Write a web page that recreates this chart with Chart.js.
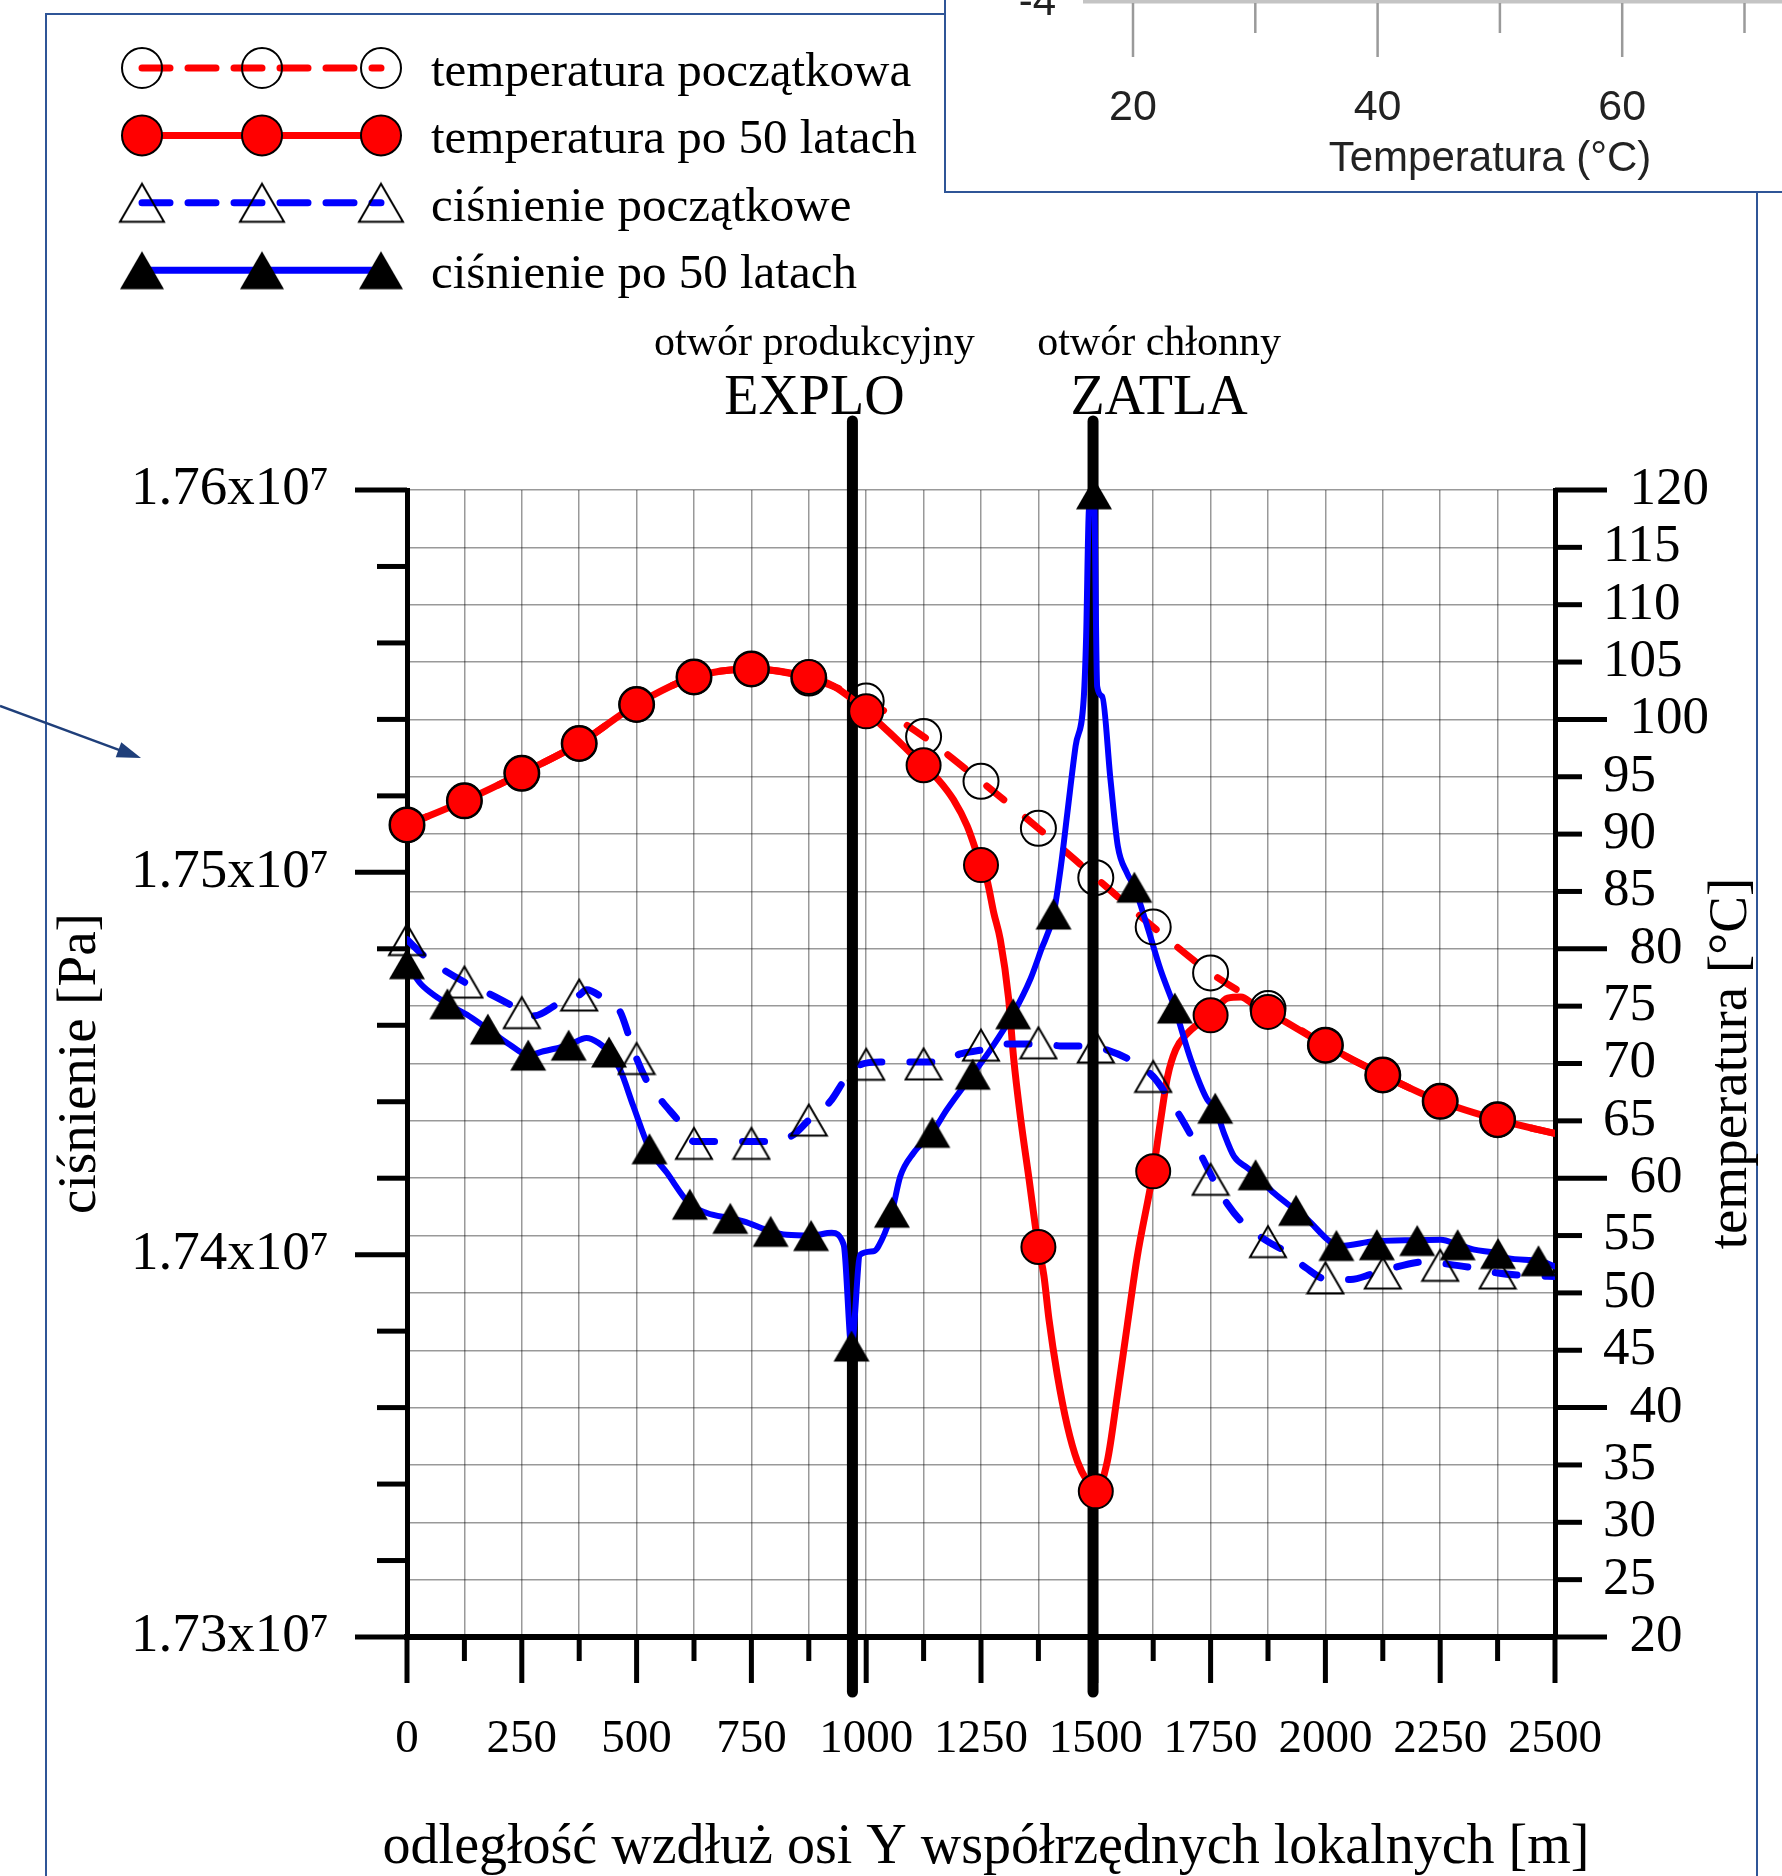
<!DOCTYPE html>
<html lang="pl">
<head>
<meta charset="utf-8">
<title>Ciśnienie i temperatura wzdłuż osi Y</title>
<script src="https://cdn.jsdelivr.net/npm/chart.js@4.4.1/dist/chart.umd.min.js"></script>
<style>
  html, body { margin: 0; padding: 0; background: #fff; }
  #wrap { position: relative; width: 1782px; height: 1876px; }
</style>
</head>
<body>
<div id="wrap"><canvas id="wykres" width="1782" height="1876"></canvas></div>
<script>
const wykres = document.getElementById('wykres');

const SERIF = '"Liberation Serif", "Times New Roman", serif';
const SANS = '"Liberation Sans", Arial, sans-serif';
const CZERWONY = '#ff0000';
const NIEBIESKI = '#0000ff';
const RAMKA = '#2f5597';
const SIATKA = 'rgba(0,0,0,0.4)';

// --- dane ---
// odległości znaczników (kółka i puste trójkąty) [m]
const odlegloscZnacznikow = [0, 125, 250, 375, 500, 625, 750, 875, 1000, 1125, 1250, 1375, 1500, 1625, 1750, 1875, 2000, 2125, 2250, 2375];
// odległości pełnych trójkątów [m]
const odlegloscTrojkatow = [0, 88, 176, 264, 352, 440, 528, 616, 704, 792, 880, 968, 1056, 1144, 1232, 1320, 1408, 1496, 1584, 1672, 1760, 1848, 1936, 2024, 2112, 2200, 2288, 2376, 2464];

const tempPoczatkowa = [90.8, 92.9, 95.3, 97.9, 101.3, 103.7, 104.4, 103.6, 101.6, 98.5, 94.6, 90.5, 86.2, 81.9, 77.9, 74.8, 71.6, 69.0, 66.7, 65.1];
const tempPo50 = [90.8, 92.9, 95.3, 97.9, 101.3, 103.7, 104.4, 103.7, 100.7, 96.0, 87.3, 54.0, 32.7, 60.6, 74.2, 74.5, 71.6, 69.0, 66.7, 65.1];
const cisnPoczatkowe = [17482400, 17471300, 17463300, 17467900, 17451300, 17429100, 17429100, 17435200, 17449800, 17449900, 17454800, 17455400, 17454300, 17446600, 17419700, 17403400, 17393900, 17395200, 17397200, 17395200];
const cisnPo50 = [17476100, 17465600, 17459000, 17452200, 17454800, 17453000, 17427700, 17413200, 17409500, 17406100, 17405000, 17376100, 17411100, 17432000, 17447200, 17463000, 17489100, 17599000, 17496100, 17464500, 17438300, 17420900, 17411600, 17402400, 17402600, 17403700, 17402600, 17400300, 17398400];

// przebiegi linii [odległość, wartość]
const krzywaTempPoczatkowa = [[0, 90.8], [125, 92.9], [250, 95.3], [375, 97.9], [500, 101.3], [625, 103.7], [750, 104.4], [875, 103.6], [1000, 101.6], [1125, 98.5], [1250, 94.6], [1375, 90.5], [1500, 86.2], [1625, 81.9], [1750, 77.9], [1875, 74.8], [2000, 71.6], [2125, 69.0], [2250, 66.7], [2375, 65.1], [2500, 63.9]];
const krzywaTempPo50 = [[0, 90.8], [125, 92.9], [250, 95.3], [375, 97.9], [500, 101.3], [625, 103.7], [750, 104.4], [875, 103.7], [929, 102.9], [965, 101.9], [1000, 100.7], [1052, 98.8], [1096, 97.1], [1125, 96.0], [1158, 94.7], [1190, 93.0], [1220, 90.7], [1250, 87.3], [1263, 86.0], [1278, 83.1], [1292, 80.8], [1310, 75.7], [1321, 70.5], [1336, 65.3], [1354, 60.1], [1375, 54.0], [1387, 51.5], [1398, 47.7], [1416, 42.9], [1438, 38.4], [1460, 35.3], [1481, 33.6], [1500, 32.7], [1525, 35.3], [1547, 41.1], [1569, 47.3], [1590, 53.1], [1625, 60.6], [1641, 65.0], [1656, 68.8], [1674, 71.2], [1699, 72.6], [1728, 73.6], [1750, 74.2], [1787, 75.7], [1816, 75.8], [1845, 75.1], [1875, 74.5], [2000, 71.6], [2125, 69.0], [2250, 66.7], [2375, 65.1], [2500, 63.9]];
const krzywaCisnPoczatkowe = [[0, 17482400], [39, 17478000], [125, 17471300], [177, 17468400], [231, 17464900], [250, 17463300], [278, 17462500], [326, 17465400], [375, 17467900], [391, 17469300], [427, 17467100], [464, 17463600], [486, 17456200], [500, 17451300], [529, 17444000], [558, 17439700], [598, 17434000], [625, 17429600], [750, 17429600], [802, 17429600], [842, 17431400], [875, 17435200], [922, 17440100], [958, 17446600], [987, 17449700], [1031, 17450400], [1161, 17450400], [1205, 17452500], [1249, 17453500], [1307, 17455100], [1394, 17455100], [1423, 17454600], [1481, 17454600], [1525, 17453500], [1583, 17450400], [1625, 17446600], [1652, 17442200], [1685, 17435900], [1714, 17429700], [1757, 17419400], [1787, 17413200], [1823, 17408000], [1875, 17403400], [1914, 17400800], [1957, 17396600], [2005, 17393500], [2055, 17393500], [2106, 17395100], [2222, 17398200], [2250, 17397800], [2324, 17396500], [2375, 17395200], [2440, 17394500], [2500, 17394300]];
const krzywaCisnPo50 = [[0, 17476100], [28, 17471100], [53, 17468400], [88, 17465600], [130, 17462800], [176, 17459000], [224, 17454900], [264, 17452200], [297, 17453200], [352, 17454800], [391, 17456700], [417, 17455400], [440, 17453000], [464, 17448400], [493, 17438800], [528, 17427700], [566, 17421400], [616, 17413200], [653, 17410900], [704, 17409500], [733, 17408700], [792, 17406100], [827, 17405200], [880, 17405000], [925, 17405700], [951, 17402600], [968, 17376100], [987, 17400000], [1016, 17400900], [1034, 17403900], [1056, 17411100], [1074, 17420400], [1103, 17426600], [1144, 17432000], [1176, 17438000], [1232, 17447200], [1270, 17453500], [1320, 17463000], [1358, 17472200], [1380, 17479400], [1408, 17489100], [1424, 17501600], [1438, 17515500], [1456, 17533000], [1474, 17546000], [1479, 17561700], [1485, 17594800], [1496, 17599000], [1503, 17548600], [1514, 17546000], [1532, 17524200], [1548, 17506800], [1568, 17499800], [1584, 17496100], [1612, 17485900], [1641, 17474500], [1672, 17464500], [1707, 17451000], [1743, 17440500], [1760, 17438300], [1779, 17431800], [1801, 17425700], [1830, 17422700], [1848, 17420900], [1888, 17416100], [1936, 17411600], [1961, 17409200], [2005, 17403900], [2024, 17402400], [2034, 17402300], [2106, 17403500], [2200, 17403800], [2252, 17403900], [2288, 17402600], [2324, 17401300], [2376, 17400300], [2397, 17399100], [2464, 17398400], [2500, 17396900]];

// otwory
const otworyX = [970, 1494];
const otworyOpis = ['otwór produkcyjny', 'otwór chłonny'];
const otworyNazwy = ['EXPLO', 'ZATLA'];

const etykietySerii = ['temperatura początkowa', 'temperatura po 50 latach', 'ciśnienie początkowe', 'ciśnienie po 50 latach'];
const tytulX = 'odległość wzdłuż osi Y współrzędnych lokalnych [m]';

// fragment innego wykresu w prawym górnym rogu
const wstawkaTicki = [20, 30, 40, 50, 60, 70];

// --- znaczniki ---
function trojkat(pelny, bok) {
  const h = bok * Math.sqrt(3) / 2;
  const cv = document.createElement('canvas');
  cv.width = Math.ceil(bok + 4);
  cv.height = Math.ceil(h + 4);
  const c = cv.getContext('2d');
  const cx = cv.width / 2, cy = cv.height / 2;
  c.beginPath();
  c.moveTo(cx, cy - h / 2);
  c.lineTo(cx + bok / 2, cy + h / 2);
  c.lineTo(cx - bok / 2, cy + h / 2);
  c.closePath();
  if (pelny) { c.fillStyle = '#000'; c.fill(); }
  else { c.strokeStyle = '#000'; c.lineWidth = 2; c.stroke(); }
  return cv;
}
const trojkatPusty = trojkat(false, 36);
const trojkatPelny = trojkat(true, 36);
const trojkatPustyL = trojkat(false, 44);
const trojkatPelnyL = trojkat(true, 44);

const seria = [
  { kolor: CZERWONY, grubosc: 7, kreska: [22, 28], znak: 'kolo', wypelnienie: null },
  { kolor: CZERWONY, grubosc: 7, kreska: [], znak: 'kolo', wypelnienie: CZERWONY },
  { kolor: NIEBIESKI, grubosc: 7, kreska: [22, 28], znak: trojkatPustyL },
  { kolor: NIEBIESKI, grubosc: 6, kreska: [], znak: trojkatPelnyL }
];

const xy = (xs, ys) => xs.map((x, i) => ({ x, y: ys[i] }));
const pary = arr => arr.map(([x, y]) => ({ x, y }));

function liniaDS(label, pts, os, s, order) {
  return {
    label, data: pary(pts), yAxisID: os, order,
    borderColor: s.kolor, borderWidth: s.grubosc, borderDash: s.kreska,
    borderCapStyle: 'round', borderJoinStyle: 'round',
    pointRadius: 0, pointHoverRadius: 0, fill: false,
    cubicInterpolationMode: 'monotone'
  };
}

function linia(c, x1, y1, x2, y2) {
  c.beginPath(); c.moveTo(x1, y1); c.lineTo(x2, y2); c.stroke();
}

function napis(c, s, x, y, font, align, baseline, color) {
  c.font = font; c.textAlign = align; c.textBaseline = baseline;
  c.fillStyle = color || '#000';
  c.fillText(s, x, y);
}

const dekoracje = {
  id: 'dekoracje',
  beforeDraw(chart) {
    const c = chart.ctx;
    c.save();
    c.fillStyle = '#fff';
    c.fillRect(0, 0, chart.width, chart.height);
    c.strokeStyle = RAMKA; c.lineWidth = 2;
    c.strokeRect(46, 14, 1711, 1900);
    c.restore();
  },
  beforeDatasetsDraw(chart) {
    const c = chart.ctx, a = chart.chartArea, sx = chart.scales.x;
    c.save();
    c.strokeStyle = '#000'; c.lineWidth = 11; c.lineCap = 'round';
    otworyX.forEach(v => {
      const px = sx.getPixelForValue(v);
      linia(c, px, a.top - 69, px, a.bottom + 55);
    });
    c.restore();
  },
  afterDraw(chart) {
    const c = chart.ctx, a = chart.chartArea;
    const sx = chart.scales.x, sp = chart.scales.yP, st = chart.scales.yT;
    c.save();

    // kreski podziałki
    c.strokeStyle = '#000'; c.lineCap = 'butt'; c.lineWidth = 5;
    sx.ticks.forEach(t => {
      const px = sx.getPixelForValue(t.value);
      linia(c, px, a.bottom, px, a.bottom + (t.value % 250 === 0 ? 46 : 24));
    });
    sp.ticks.forEach(t => {
      const py = sp.getPixelForValue(t.value);
      const dl = Math.round(t.value / 1e4) % 10 === 0 ? 52 : 30;
      linia(c, a.left - dl, py, a.left, py);
    });
    st.ticks.forEach(t => {
      const py = st.getPixelForValue(t.value);
      linia(c, a.right, py, a.right + (t.value % 20 === 0 ? 52 : 27), py);
    });

    // tytuł osi X (szerszy niż obszar wykresu)
    napis(c, tytulX, (a.left + a.right) / 2 + 5, 1848, `56px ${SERIF}`, 'center', 'middle');

    // tytuł prawej osi
    c.save();
    c.translate(a.right + 177, (a.top + a.bottom) / 2);
    c.rotate(-Math.PI / 2);
    napis(c, 'temperatura [°C]', 0, 0, `55px ${SERIF}`, 'center', 'middle');
    c.restore();

    // opisy otworów
    const przes = [-38, 66];
    otworyX.forEach((v, i) => {
      const px = sx.getPixelForValue(v) + przes[i];
      napis(c, otworyOpis[i], px, a.top - 135, `42px ${SERIF}`, 'center', 'alphabetic');
      napis(c, otworyNazwy[i], px, a.top - 76, `56px ${SERIF}`, 'center', 'alphabetic');
    });

    // legenda
    seria.forEach((s, i) => {
      const y = 68 + i * 67.4;
      c.save();
      c.strokeStyle = s.kolor; c.lineWidth = 7;
      c.lineCap = s.kreska.length ? 'round' : 'butt';
      c.setLineDash(s.kreska.length ? [28, 18] : []);
      linia(c, 142, y, 381, y);
      c.restore();
      [142, 262, 381].forEach(mx => {
        if (s.znak === 'kolo') {
          c.beginPath(); c.arc(mx, y, 20, 0, Math.PI * 2);
          if (s.wypelnienie) { c.fillStyle = s.wypelnienie; c.fill(); }
          c.strokeStyle = '#000'; c.lineWidth = 2; c.stroke();
        } else {
          c.drawImage(s.znak, mx - s.znak.width / 2, y - s.znak.height / 2);
        }
      });
      napis(c, etykietySerii[i], 431, y + 18, `49px ${SERIF}`, 'left', 'alphabetic');
    });

    // wstawka (fragment innego wykresu)
    c.fillStyle = '#fff';
    c.fillRect(945, -10, 900, 202);
    c.strokeStyle = RAMKA; c.lineWidth = 2;
    c.strokeRect(945, -10, 900, 202);
    c.save();
    c.filter = 'blur(0.7px)';
    c.strokeStyle = '#c4c4c4'; c.lineWidth = 4;
    linia(c, 1083, 1.5, 1782, 1.5);
    c.strokeStyle = '#9a9a9a'; c.lineWidth = 2.5;
    wstawkaTicki.forEach(v => {
      const px = 1133 + (v - 20) * 12.23;
      const duzy = v % 20 === 0;
      linia(c, px, 3, px, duzy ? 57 : 33);
      if (duzy) napis(c, String(v), px, 108, `43px ${SANS}`, 'center', 'middle', '#222');
    });
    napis(c, '-4', 1056, 15, `42px ${SANS}`, 'right', 'alphabetic', '#222');
    napis(c, 'Temperatura (°C)', 1490, 159, `42px ${SANS}`, 'center', 'middle', '#222');
    c.restore();

    // strzałka
    c.strokeStyle = '#1f3f7a'; c.fillStyle = '#1f3f7a'; c.lineWidth = 2.5;
    const x1 = 0, y1 = 706, x2 = 141, y2 = 758;
    const ang = Math.atan2(y2 - y1, x2 - x1);
    linia(c, x1, y1, x2 - 20 * Math.cos(ang), y2 - 20 * Math.sin(ang));
    c.beginPath();
    c.moveTo(x2, y2);
    c.lineTo(x2 - 24 * Math.cos(ang) + 8 * Math.sin(ang), y2 - 24 * Math.sin(ang) - 8 * Math.cos(ang));
    c.lineTo(x2 - 24 * Math.cos(ang) - 8 * Math.sin(ang), y2 - 24 * Math.sin(ang) + 8 * Math.cos(ang));
    c.closePath(); c.fill();

    c.restore();
  }
};

Chart.defaults.font.family = SERIF;
Chart.defaults.color = '#000';

new Chart(wykres, {
  type: 'line',
  data: {
    datasets: [
      { label: etykietySerii[3], data: xy(odlegloscTrojkatow, cisnPo50), yAxisID: 'yP', order: 1,
        showLine: false, clip: false, pointStyle: trojkatPelny, pointRadius: 18, pointHoverRadius: 18 },
      { label: etykietySerii[2], data: xy(odlegloscZnacznikow, cisnPoczatkowe), yAxisID: 'yP', order: 2,
        showLine: false, clip: false, pointStyle: trojkatPusty, pointRadius: 18, pointHoverRadius: 18 },
      { label: etykietySerii[1], data: xy(odlegloscZnacznikow, tempPo50), yAxisID: 'yT', order: 3,
        showLine: false, clip: false, pointStyle: 'circle', pointRadius: 17, pointHoverRadius: 17,
        pointBorderWidth: 2, pointBorderColor: '#000', pointBackgroundColor: CZERWONY },
      { label: etykietySerii[0], data: xy(odlegloscZnacznikow, tempPoczatkowa), yAxisID: 'yT', order: 4,
        showLine: false, clip: false, pointStyle: 'circle', pointRadius: 17.5, pointHoverRadius: 17.5,
        pointBorderWidth: 2, pointBorderColor: '#000', pointBackgroundColor: 'rgba(0,0,0,0)' },
      liniaDS(etykietySerii[3], krzywaCisnPo50, 'yP', seria[3], 5),
      liniaDS(etykietySerii[2], krzywaCisnPoczatkowe, 'yP', seria[2], 6),
      liniaDS(etykietySerii[1], krzywaTempPo50, 'yT', seria[1], 7),
      liniaDS(etykietySerii[0], krzywaTempPoczatkowa, 'yT', seria[0], 8)
    ]
  },
  options: {
    responsive: false,
    devicePixelRatio: 1,
    animation: false,
    events: [],
    layout: { padding: { top: 490, left: 0, right: 0, bottom: 0 } },
    plugins: { legend: { display: false }, tooltip: { enabled: false } },
    scales: {
      x: {
        type: 'linear', min: 0, max: 2500,
        ticks: {
          stepSize: 125, autoSkip: false, maxRotation: 0, minRotation: 0, padding: 74,
          font: { family: SERIF, size: 47 },
          callback: v => (v % 250 === 0 ? String(v) : '')
        },
        grid: { color: SIATKA, lineWidth: 1.5, drawTicks: false },
        border: { color: '#000', width: 6 },
        title: { display: false },
        afterFit: s => { s.height = 239; }
      },
      yP: {
        type: 'linear', position: 'left', min: 17300000, max: 17600000,
        ticks: {
          stepSize: 20000, autoSkip: false, padding: 78,
          font: { family: SERIF, size: 55 },
          callback: v => (Math.round(v / 1e4) % 10 === 0 ? (v / 1e7).toFixed(2) + 'x10\u2077' : '')
        },
        grid: { display: false, drawTicks: false },
        border: { color: '#000', width: 5 },
        title: {
          display: true, text: 'ciśnienie [Pa]',
          font: { family: SERIF, size: 55, lineHeight: 1 }, padding: { top: 53, bottom: 0 }
        },
        afterFit: s => { s.width = 407; }
      },
      yT: {
        type: 'linear', position: 'right', min: 20, max: 120,
        ticks: {
          stepSize: 5, autoSkip: false, padding: 48,
          font: { family: SERIF, size: 53 },
          callback: v => (v % 20 === 0 ? '  ' + v : String(v))
        },
        grid: { color: SIATKA, lineWidth: 1.5, drawTicks: false },
        border: { color: '#000', width: 5 },
        afterFit: s => { s.width = 227; }
      }
    }
  },
  plugins: [dekoracje]
});
</script>
</body>
</html>
